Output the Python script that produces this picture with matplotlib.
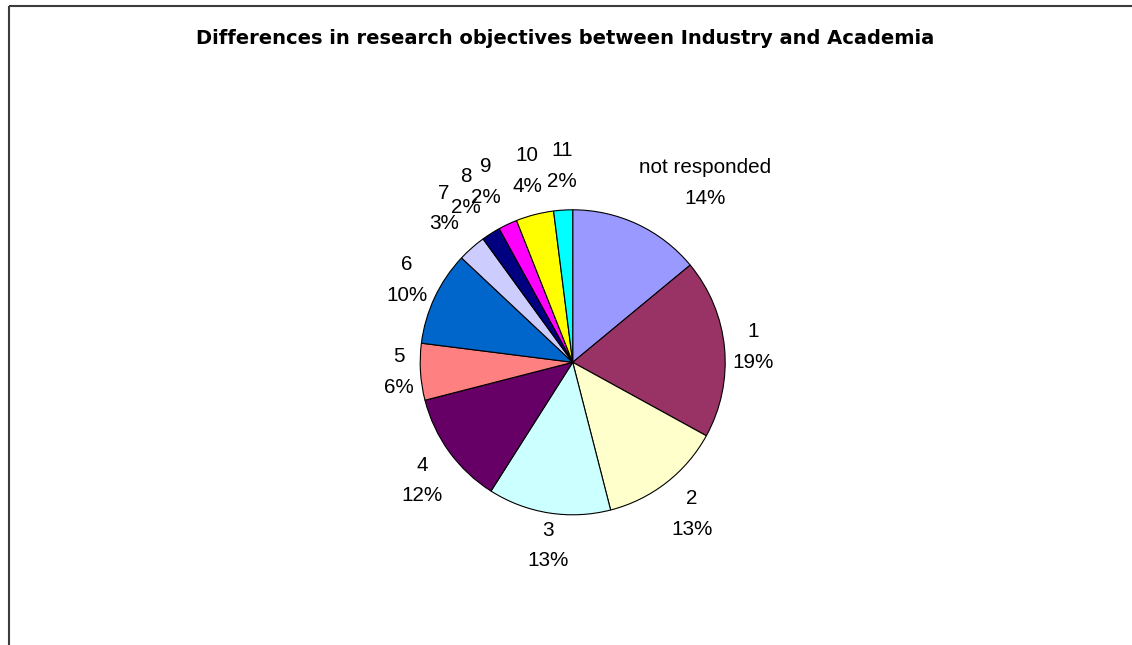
import numpy as np
import matplotlib
matplotlib.use("Agg")
import matplotlib.pyplot as plt

# Survey answers and their shares (percent)
categories = ["not responded", "1", "2", "3", "4", "5", "6", "7", "8", "9", "10", "11"]
shares = [14, 19, 13, 13, 12, 6, 10, 3, 2, 2, 4, 2]
colors = ["#9999FF", "#993366", "#FFFFCC", "#CCFFFF", "#660066", "#FF8080",
          "#0066CC", "#CCCCFF", "#000080", "#FF00FF", "#FFFF00", "#00FFFF"]
title = "Differences in research objectives between Industry and Academia"

plt.rcParams["font.family"] = ["Liberation Sans", "DejaVu Sans"]

W, H = 1132, 645
fig = plt.figure(figsize=(W / 100, H / 100), dpi=100)
ax = fig.add_axes([0, 0, 1, 1])

cx, cy, r = 572.7, H - 362.3, 152.5
wedges, _ = ax.pie(shares, colors=colors, startangle=90, counterclock=False,
                   center=(cx, cy), radius=r,
                   wedgeprops=dict(edgecolor="black", linewidth=0.8))
ax.set_xlim(0, W)
ax.set_ylim(0, H)
ax.set_aspect("equal")
ax.axis("off")


def side(v, lo, span):
    """0 near the axis, +/-1 once the direction is clearly to one side."""
    return np.sign(v) * np.clip((abs(v) - lo) / span, 0, 1)


# Labels: put the box corner/edge that faces the pie just outside the
# wedge's mid-angle (axes units are pixels here)
renderer = fig.canvas.get_renderer()
for w, cat, s in zip(wedges, categories, shares):
    phi = np.deg2rad((w.theta1 + w.theta2) / 2)
    c, sn = np.cos(phi), np.sin(phi)
    t = ax.text(0, 0, f"{cat}\n{s}%", ha="center", va="center",
                multialignment="center", fontsize=14.9, linespacing=1.78,
                color="black")
    bb = t.get_window_extent(renderer)
    bw, bh = bb.width, bb.height
    gap = 19.5 if s < 5 else 8 + 0.12 * (bw - 44)
    d = r + gap
    x = cx + d * c + bw / 2 * side(c, 0.2, 0.25)
    y = cy + d * sn + bh / 2 * side(sn, 0.2, 0.4)
    t.set_position((x, y))

# Title
ax.text(565, H - 44.5, title, ha="center", va="baseline", fontsize=14,
        fontweight="bold", family="DejaVu Sans")

# Chart area border (runs past the right and bottom edges)
ax.plot([8.5, W + 10], [H - 5.5, H - 5.5], color="#3c3c3c", lw=1.5,
        clip_on=False, solid_capstyle="butt")
ax.plot([8.5, 8.5], [H - 5.5, -10], color="#3c3c3c", lw=1.5,
        clip_on=False, solid_capstyle="butt")

fig.savefig("out.png", dpi=100, facecolor="white")
